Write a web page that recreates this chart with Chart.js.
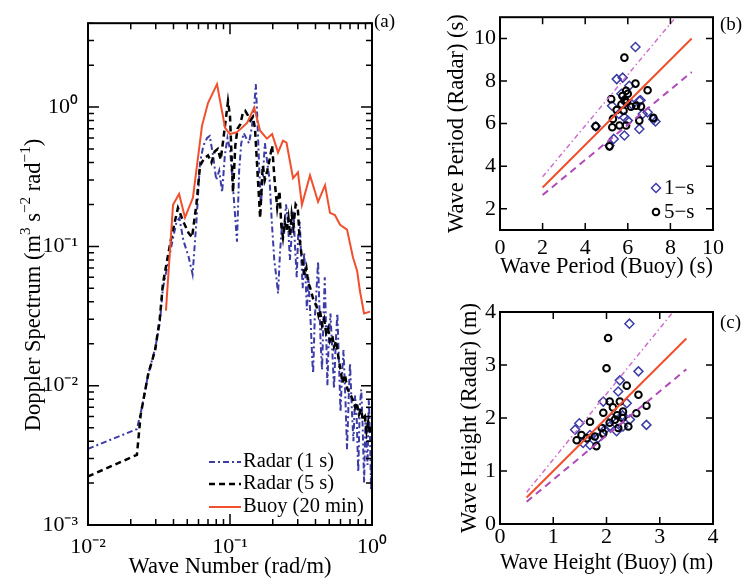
<!DOCTYPE html>
<html><head><meta charset="utf-8">
<script src="https://cdn.jsdelivr.net/npm/chart.js@4.4.1/dist/chart.umd.min.js"></script>
<style>
html,body{margin:0;padding:0;background:#fff;width:742px;height:578px;overflow:hidden}
canvas{position:absolute}
</style></head>
<body>
<canvas id="chartA" width="400" height="578" style="left:0;top:0"></canvas>
<canvas id="chartB" width="342" height="290" style="left:400px;top:0"></canvas>
<canvas id="chartC" width="342" height="288" style="left:400px;top:290px"></canvas>
<script>
const FONT = "'Liberation Serif', 'Times New Roman', serif";
const TXT = '#000';

// ---------- Panel (a): Doppler spectrum ----------
const k1s = [0.0100,0.0221,0.0240,0.0265,0.0297,0.0320,0.0337,0.0365,0.0390,0.0420,
  0.0440,0.0470,0.0510,0.0545,0.0580,0.0615,0.0650,0.0690,0.0720,0.0760,
  0.0800,0.0840,0.0880,0.0920,0.0960,0.1000,0.1040,0.1080,0.1120,0.1160,
  0.1200,0.1250,0.1300,0.1360,0.1420,0.1480,0.1520,0.1560,0.1600,0.1650,
  0.1700,0.1760,0.1830,0.1900,0.1970,0.2050,0.2120,0.2180,0.2250,0.2330,
  0.2400,0.2480,0.2560,0.2640,0.2720,0.2800,0.2870,0.2950,0.3020,0.3100,
  0.3180,0.3250,0.3330,0.3400,0.3480,0.3560,0.3640,0.3720,0.3800,0.3850,
  0.3950,0.4050,0.4170,0.4250,0.4350,0.4450,0.4550,0.4650,0.4750,0.4850,
  0.4950,0.5100,0.5250,0.5400,0.5550,0.5700,0.5850,0.6000,0.6150,0.6300,
  0.6500,0.6670,0.6850,0.7000,0.7200,0.7400,0.7600,0.7800,0.8000,0.8200,
  0.8400,0.8600,0.8800,0.9000,0.9300,0.9500,0.9700,0.9850,1.0000];
const s1s = [0.00352,0.00488,0.0070,0.0120,0.0185,0.028,0.050,0.075,0.105,0.150,
  0.160,0.110,0.085,0.063,0.150,0.400,0.530,0.600,0.620,0.450,
  0.300,0.350,0.245,0.450,0.600,0.500,0.300,0.180,0.108,0.350,
  0.550,0.650,0.600,0.550,0.700,1.00,1.46,0.80,0.40,0.20,
  0.30,0.55,0.40,0.30,0.15,0.080,0.060,0.046,0.090,0.150,
  0.120,0.200,0.150,0.080,0.120,0.180,0.100,0.060,0.120,0.150,
  0.080,0.050,0.090,0.060,0.035,0.060,0.040,0.025,0.015,0.0123,
  0.030,0.045,0.078,0.040,0.020,0.013,0.030,0.060,0.025,0.010,
  0.020,0.033,0.018,0.0095,0.020,0.033,0.015,0.0065,0.012,0.018,
  0.0080,0.0035,0.0080,0.0145,0.0070,0.0040,0.0085,0.0060,0.0024,0.0070,
  0.0094,0.0050,0.0020,0.0060,0.0027,0.0080,0.0040,0.0018,0.0035];
const k5s = [0.0100,0.0221,0.0235,0.0265,0.0297,0.0320,0.0337,0.0365,0.0390,0.0430,
  0.0470,0.0510,0.0540,0.0580,0.0615,0.0660,0.0700,0.0740,0.0780,0.0820,
  0.0860,0.0900,0.0968,0.1000,0.1050,0.1090,0.1130,0.1180,0.1230,0.1280,
  0.1330,0.1390,0.1450,0.1500,0.1560,0.1630,0.1700,0.1760,0.1830,0.1900,
  0.1980,0.2060,0.2150,0.2230,0.2300,0.2360,0.2430,0.2500,0.2580,0.2650,
  0.2720,0.2800,0.2900,0.3000,0.3100,0.3200,0.3270,0.3350,0.3450,0.3550,
  0.3660,0.3780,0.3900,0.4050,0.4200,0.4300,0.4450,0.4600,0.4750,0.4900,
  0.5060,0.5250,0.5400,0.5600,0.5800,0.6000,0.6200,0.6450,0.6700,0.7000,
  0.7300,0.7600,0.7800,0.8100,0.8400,0.8600,0.8900,0.9150,0.9400,0.9700,
  1.0000];
const s5s = [0.00223,0.00319,0.0062,0.0120,0.0180,0.0300,0.054,0.085,0.122,0.189,
  0.150,0.125,0.116,0.200,0.380,0.430,0.450,0.400,0.480,0.500,
  0.420,0.600,1.10,0.86,0.245,0.53,0.70,0.75,0.90,0.94,
  0.88,0.80,0.85,0.70,0.35,0.16,0.38,0.30,0.35,0.42,
  0.53,0.30,0.19,0.25,0.14,0.116,0.15,0.13,0.16,0.12,
  0.17,0.14,0.20,0.19,0.11,0.085,0.074,0.062,0.070,0.055,
  0.051,0.045,0.040,0.038,0.032,0.035,0.027,0.030,0.024,0.026,
  0.021,0.023,0.019,0.021,0.016,0.013,0.0105,0.012,0.0095,0.0088,
  0.0080,0.0070,0.0076,0.0062,0.0068,0.0057,0.0060,0.0047,0.0055,0.0045,
  0.0050];
const kBuoy = [0.0354,0.0397,0.0438,0.0482,0.0548,0.0635,0.0700,0.0810,0.0923,0.1000,
  0.1120,0.1320,0.1480,0.1630,0.1820,0.1980,0.2180,0.2360,0.2500,0.2780,
  0.3010,0.3210,0.3660,0.4170,0.4670,0.5060,0.5480,0.5960,0.6670,0.7340,
  0.7860,0.8220,0.8790,0.9680];
const sBuoy = [0.0346,0.199,0.238,0.161,0.223,0.733,1.07,1.46,0.71,0.64,
  0.66,0.77,0.99,0.676,0.593,0.64,0.472,0.574,0.555,0.309,
  0.340,0.199,0.324,0.209,0.275,0.174,0.168,0.143,0.132,0.0836,
  0.0665,0.048,0.033,0.034];
const xTickValuesA = [0.01, 0.1, 1];
const xTickLabelsA = ['10⁻²', '10⁻¹', '10⁰'];
const yTickValuesA = [0.001, 0.01, 0.1, 1];
const yTickLabelsA = ['10⁻³', '10⁻²', '10⁻¹', '10⁰'];
const legendLabelsA = ['Radar (1 s)', 'Radar (5 s)', 'Buoy (20 min)'];
// y title of (a): [text, isSuperscript]
const yTitleA = [['Doppler Spectrum (m', 0], ['3', 1], [' s', 0], ['−2', 1], [' rad', 0], ['−1', 1], [')', 0]];

// ---------- Panel (b): wave period ----------
const periodBuoy1s  = [6.36,5.48,5.76,6.07,5.26,6.54,6.70,6.93,5.58,5.84,6.00,6.54,5.34,5.84,5.14,4.50,7.20,5.90,5.70,6.20,6.60,7.30];
const periodRadar1s = [9.60,8.09,8.16,7.78,6.84,7.07,6.45,6.53,6.45,6.29,6.14,5.75,5.28,5.44,4.97,5.87,6.20,7.00,7.40,6.90,7.10,6.10];
const periodBuoy5s  = [5.84,6.36,6.93,5.92,5.22,6.15,6.39,6.62,5.48,5.30,5.61,5.92,6.54,7.20,4.49,5.14,5.27,5.75,5.85,5.70,5.95,5.80,6.00];
const periodRadar5s = [9.10,7.88,7.57,7.54,7.15,6.79,6.84,6.80,6.64,6.22,5.91,5.91,6.14,6.27,5.87,4.93,5.83,7.30,7.10,6.90,7.00,6.60,7.40];
const periodFitX = [2, 9],    periodFitY = [3, 10];
const periodUpperX = [2, 8.25], periodUpperY = [3.5, 11];
const periodLowerX = [2, 9],  periodLowerY = [2.64, 8.42];
const xTicksB = [0, 2, 4, 6, 8, 10];
const yTicksB = [2, 4, 6, 8, 10];
const legendLabelsB = ['1−s', '5−s'];

// ---------- Panel (c): wave height ----------
const heightBuoy1s  = [2.43,2.60,2.25,2.22,1.94,2.75,1.49,1.41,1.69,1.56,1.69,2.06,2.19,2.31,2.44,1.97,2.38,1.84,2.10,2.30];
const heightRadar1s = [3.78,2.88,2.71,2.50,2.31,1.87,1.90,1.78,1.68,1.53,1.49,1.84,1.75,1.84,1.97,1.78,2.28,1.62,2.00,2.05];
const heightBuoy5s  = [2.03,2.00,2.38,2.60,2.75,2.56,1.94,2.06,2.25,1.69,2.06,2.16,2.31,2.22,2.41,2.30,1.91,1.78,1.53,1.44,1.63,1.81,1.94,2.12,2.20];
const heightRadar5s = [3.51,2.94,2.61,2.44,2.23,2.09,2.10,2.31,2.31,1.93,1.91,1.97,2.12,1.81,1.84,2.00,1.81,1.65,1.68,1.58,1.62,1.47,1.71,2.20,2.05];
const heightFitX = [0.5, 3.5],   heightFitY = [0.5, 3.5];
const heightUpperX = [0.5, 3.25], heightUpperY = [0.6, 4.0];
const heightLowerX = [0.5, 3.5], heightLowerY = [0.42, 2.92];
const ticksC = [0, 1, 2, 3, 4];

// ---------- styles ----------
const RED = '#f0502d', BLUE = '#3c3ca6', MAG_UP = '#cf6fcf', MAG_LO = '#b04ab8';
const DASH_1S = [6, 3, 2, 3], DASH_5S = [6, 4];
const TICK_PX = 22, TITLE_PX = 22.5;

function pts(xs, ys) { return xs.map((x, i) => ({ x: x, y: ys[i] })); }
function logTicks(decades, max) {
  const out = [];
  decades.forEach(d => { for (let m = 1; m <= 9; m++) { const v = d * m; if (v <= max * 1.000001) out.push({ value: v }); } });
  return out;
}
function isPow10(v) { const l = Math.log10(v); return Math.abs(l - Math.round(l)) < 1e-6; }
function logLabel(v, vals, labs) {
  const i = vals.findIndex(u => Math.abs(Math.log10(u) - Math.log10(v)) < 1e-6);
  return i >= 0 ? labs[i] : '';
}
function lineDs(xs, ys, color, width, dash, order) {
  return { data: pts(xs, ys), showLine: true, borderColor: color, borderWidth: width, borderDash: dash || [],
    pointRadius: 0, pointHoverRadius: 0, fill: false, order: order, borderCapStyle: 'butt', borderJoinStyle: 'miter' };
}

function framePlugin(o) {
  return {
    id: 'frame',
    afterDatasetsDraw(chart) {
      const { ctx, chartArea: a, scales } = chart;
      const xs = scales.x, ys = scales.y;
      ctx.save();
      ctx.strokeStyle = '#000';
      ctx.lineWidth = o.tickWidth;
      ctx.beginPath();
      xs.ticks.forEach(t => {
        const p = xs.getPixelForValue(t.value);
        const len = o.isMajor(t.value) ? o.major : o.minor;
        ctx.moveTo(p, a.bottom); ctx.lineTo(p, a.bottom - len);
        ctx.moveTo(p, a.top); ctx.lineTo(p, a.top + len);
      });
      ys.ticks.forEach(t => {
        const p = ys.getPixelForValue(t.value);
        const len = o.isMajor(t.value) ? o.major : o.minor;
        ctx.moveTo(a.left, p); ctx.lineTo(a.left + len, p);
        ctx.moveTo(a.right, p); ctx.lineTo(a.right - len, p);
      });
      ctx.stroke();
      ctx.lineWidth = o.boxWidth;
      ctx.strokeRect(a.left, a.top, a.right - a.left, a.bottom - a.top);
      ctx.fillStyle = TXT;
      ctx.font = o.labelFont + 'px ' + FONT;
      ctx.textAlign = 'left'; ctx.textBaseline = 'middle';
      ctx.fillText(o.label, o.labelX, o.labelY);
      if (o.legend) o.legend(ctx, chart);
      ctx.restore();
    }
  };
}

// rotated rich text (with superscripts) centred at (cx, cy)
function drawRichVertical(ctx, parts, cx, cy, size) {
  const supSize = size * 0.68;
  const fonts = parts.map(p => (p[1] ? supSize : size) + 'px ' + FONT);
  let total = 0;
  const widths = parts.map((p, i) => { ctx.font = fonts[i]; const w = ctx.measureText(p[0]).width; total += w; return w; });
  ctx.save();
  ctx.translate(cx, cy); ctx.rotate(-Math.PI / 2);
  ctx.fillStyle = TXT; ctx.textAlign = 'left'; ctx.textBaseline = 'alphabetic';
  let x = -total / 2;
  const base = size * 0.33;
  parts.forEach((p, i) => {
    ctx.font = fonts[i];
    ctx.fillText(p[0], x, p[1] ? base - size * 0.45 : base);
    x += widths[i];
  });
  ctx.restore();
}

const common = {
  responsive: false, maintainAspectRatio: false, animation: false, devicePixelRatio: 1,
  events: [],
  plugins: { legend: { display: false }, tooltip: { enabled: false } }
};
function tickFont(size) { return { family: FONT, size: size }; }
function titleFont(size) { return { family: FONT, size: size, lineHeight: 1 }; }

// ---------- Chart A ----------
new Chart(document.getElementById('chartA'), {
  type: 'scatter',
  data: { datasets: [
    Object.assign(lineDs(k1s, s1s, BLUE, 2, DASH_1S, 3), { label: legendLabelsA[0] }),
    Object.assign(lineDs(k5s, s5s, '#000', 2.5, DASH_5S, 2), { label: legendLabelsA[1] }),
    Object.assign(lineDs(kBuoy, sBuoy, RED, 2, [], 1), { label: legendLabelsA[2] })
  ]},
  options: Object.assign({}, common, {
    layout: { padding: { top: 17, right: 28, left: 0, bottom: 0 } },
    scales: {
      x: {
        type: 'logarithmic', min: 0.01, max: 1, position: 'bottom',
        grid: { display: false, drawTicks: false }, border: { display: false },
        afterBuildTicks: s => { s.ticks = logTicks(xTickValuesA, 1); },
        afterFit: s => { s.height = 53; },
        ticks: { autoSkip: false, minRotation: 0, maxRotation: 0, padding: 8.8, color: TXT, font: tickFont(TICK_PX),
          callback: v => logLabel(v, xTickValuesA, xTickLabelsA) },
        title: { display: true, text: 'Wave Number (rad/m)', color: TXT, font: titleFont(TITLE_PX), padding: { top: 0, bottom: 0 } }
      },
      y: {
        type: 'logarithmic', min: 0.001, max: 4, position: 'left',
        grid: { display: false, drawTicks: false }, border: { display: false },
        afterBuildTicks: s => { s.ticks = logTicks(yTickValuesA, 4); },
        afterFit: s => { s.width = 88; },
        ticks: { autoSkip: false, padding: 10, color: TXT, font: tickFont(TICK_PX),
          callback: v => logLabel(v, yTickValuesA, yTickLabelsA) },
        title: { display: false }
      }
    }
  }),
  plugins: [framePlugin({
    tickWidth: 1.5, boxWidth: 2, major: 11, minor: 6, isMajor: isPow10,
    label: '(a)', labelX: 374, labelY: 22, labelFont: 19,
    legend: (ctx) => {
      drawRichVertical(ctx, yTitleA, 33, 285, TITLE_PX);
      const rows = [
        { y: 462, color: BLUE, w: 2, dash: DASH_1S, text: legendLabelsA[0] },
        { y: 484, color: '#000', w: 2.5, dash: DASH_5S, text: legendLabelsA[1] },
        { y: 507, color: RED, w: 2, dash: [], text: legendLabelsA[2] }
      ];
      ctx.font = '20.5px ' + FONT; ctx.textAlign = 'left'; ctx.textBaseline = 'middle';
      rows.forEach(r => {
        ctx.save();
        ctx.strokeStyle = r.color; ctx.lineWidth = r.w; ctx.setLineDash(r.dash);
        ctx.beginPath(); ctx.moveTo(209, r.y); ctx.lineTo(241, r.y); ctx.stroke();
        ctx.restore();
        ctx.fillStyle = TXT; ctx.fillText(r.text, 243, r.y);
      });
    }
  })]
});

// ---------- scatter helper ----------
function scatterChart(id, o) {
  return new Chart(document.getElementById(id), {
    type: 'scatter',
    data: { datasets: [
      lineDs(o.fitX, o.fitY, RED, 2, [], 1),
      lineDs(o.upX, o.upY, MAG_UP, 1.5, [5, 3, 1.5, 3], 1),
      lineDs(o.loX, o.loY, MAG_LO, 2, [7, 5], 1),
      { label: legendLabelsB[1], data: pts(o.bx5, o.ry5), pointStyle: 'circle', pointRadius: 3.3, borderWidth: 2,
        borderColor: '#000', backgroundColor: 'rgba(0,0,0,0)', order: 2 },
      { label: legendLabelsB[0], data: pts(o.bx1, o.ry1), pointStyle: 'rectRot', pointRadius: 4.5, borderWidth: 1.5,
        borderColor: BLUE, backgroundColor: 'rgba(0,0,0,0)', order: 3 }
    ]},
    options: Object.assign({}, common, {
      layout: { padding: { top: o.padTop, right: 29, left: 0, bottom: 0 } },
      scales: {
        x: {
          type: 'linear', min: o.xMin, max: o.xMax, position: 'bottom',
          grid: { display: false, drawTicks: false }, border: { display: false },
          afterBuildTicks: s => { s.ticks = o.xTicks.map(v => ({ value: v })); },
          afterFit: s => { s.height = o.xAxisH; },
          ticks: { autoSkip: false, minRotation: 0, maxRotation: 0, padding: o.xPad, color: TXT, font: tickFont(TICK_PX),
            callback: v => String(v) },
          title: { display: true, text: o.xTitle, color: TXT, font: titleFont(TITLE_PX), padding: { top: 0, bottom: o.xTitlePad } }
        },
        y: {
          type: 'linear', min: o.yMin, max: o.yMax, position: 'left',
          grid: { display: false, drawTicks: false }, border: { display: false },
          afterBuildTicks: s => { s.ticks = o.yTicks.map(v => ({ value: v })); },
          afterFit: s => { s.width = 100; },
          ticks: { autoSkip: false, padding: 4, color: TXT, font: tickFont(TICK_PX), callback: v => String(v) },
          title: { display: true, text: o.yTitle, color: TXT, font: titleFont(TITLE_PX), padding: { top: o.yTitlePad, bottom: 0 } }
        }
      }
    }),
    plugins: [framePlugin({
      tickWidth: 1.5, boxWidth: 2, major: 7, minor: 7, isMajor: () => true,
      label: o.label, labelX: 320, labelY: o.labelY, labelFont: 19,
      legend: o.legend
    })]
  });
}

scatterChart('chartB', {
  fitX: periodFitX, fitY: periodFitY, upX: periodUpperX, upY: periodUpperY, loX: periodLowerX, loY: periodLowerY,
  bx1: periodBuoy1s, ry1: periodRadar1s, bx5: periodBuoy5s, ry5: periodRadar5s,
  xMin: 0, xMax: 10, yMin: 1, yMax: 11, xTicks: xTicksB, yTicks: yTicksB,
  padTop: 17, xAxisH: 60, xPad: 4.8, xTitlePad: 11.75, yTitlePad: 45.75,
  xTitle: 'Wave Period (Buoy) (s)', yTitle: 'Wave Period (Radar) (s)',
  label: '(b)', labelY: 25,
  legend: (ctx) => {
    ctx.save();
    ctx.lineWidth = 1.5; ctx.strokeStyle = BLUE;
    ctx.beginPath(); ctx.moveTo(256, 183.5); ctx.lineTo(260.5, 188); ctx.lineTo(256, 192.5); ctx.lineTo(251.5, 188); ctx.closePath(); ctx.stroke();
    ctx.lineWidth = 2; ctx.strokeStyle = '#000';
    ctx.beginPath(); ctx.arc(256, 212, 3.3, 0, Math.PI * 2); ctx.stroke();
    ctx.fillStyle = TXT; ctx.font = '21px ' + FONT; ctx.textAlign = 'left'; ctx.textBaseline = 'middle';
    ctx.fillText(legendLabelsB[0], 264, 188);
    ctx.fillText(legendLabelsB[1], 264, 212);
    ctx.restore();
  }
});

scatterChart('chartC', {
  fitX: heightFitX, fitY: heightFitY, upX: heightUpperX, upY: heightUpperY, loX: heightLowerX, loY: heightLowerY,
  bx1: heightBuoy1s, ry1: heightRadar1s, bx5: heightBuoy5s, ry5: heightRadar5s,
  xMin: 0, xMax: 4, yMin: 0, yMax: 4, xTicks: ticksC, yTicks: ticksC,
  padTop: 22, xAxisH: 54, xPad: 0, xTitlePad: 3.75, yTitlePad: 58.75,
  xTitle: 'Wave Height (Buoy) (m)', yTitle: 'Wave Height (Radar) (m)',
  label: '(c)', labelY: 33,
  legend: null
});
</script>
</body></html>
